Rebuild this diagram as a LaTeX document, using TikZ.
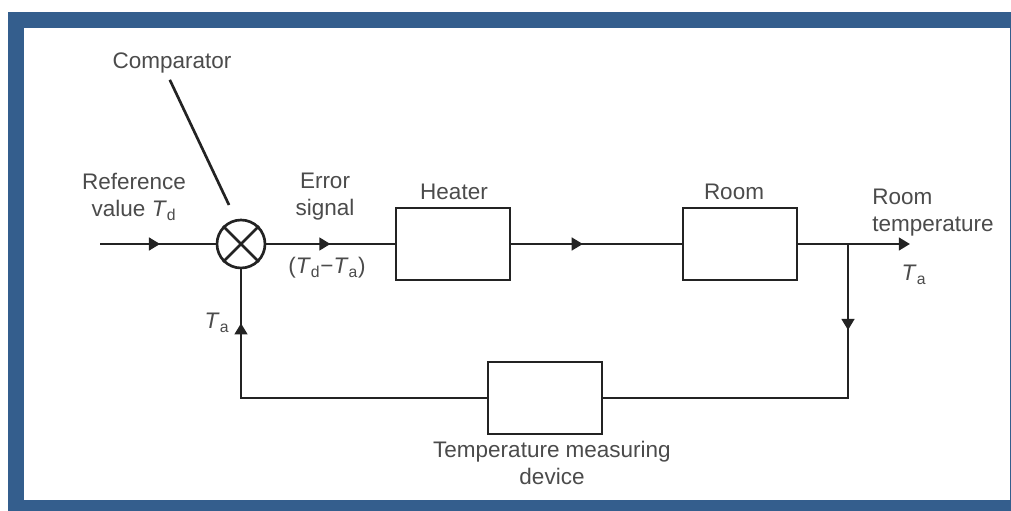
\documentclass[tikz,border=0pt]{standalone}
\usepackage{fontspec}
\setmainfont{Liberation Sans}
\usetikzlibrary{arrows.meta,decorations.markings}
\definecolor{frameblue}{RGB}{52,94,141}
\definecolor{inkgray}{RGB}{35,35,35}
\definecolor{textgray}{RGB}{75,75,75}
\newcommand{\Tval}[1]{\textit{T}\textsubscript{#1}}
\tikzset{
  block/.style={draw=inkgray, line width=1.9pt, minimum width=2.85cm, minimum height=1.8cm},
  txt/.style={text=textgray, font=\fontsize{16}{19.2}\selectfont, align=center, inner sep=0pt},
  signal/.style={color=inkgray, line width=1.9pt},
  midarrow/.style={postaction={decorate}, decoration={markings,
    mark=at position #1 with {\arrow{Triangle[length=8pt,width=9pt]}}}},
}
\begin{document}
\begin{tikzpicture}[x=0.025cm, y=-0.025cm]
\useasboundingbox (0,0) rectangle (1011,511);
% frame
\fill[frameblue] (8,12) rectangle (1011,511);
\fill[white] (24,28) rectangle (1010,500);
% comparator
\node[circle, draw=inkgray, line width=1.9pt, minimum size=1.2cm, inner sep=0pt] (comp) at (241,244) {};
\draw[signal] (comp.north west) -- (comp.south east) (comp.north east) -- (comp.south west);
% blocks
\node[block] (heater) at (453,244) {};
\node[block] (room) at (740,244) {};
\node[block] (meas) at (545,398) {};
\coordinate (in) at (100,244);
\coordinate (branch) at (848,244);
\coordinate (out) at (910,244);
\coordinate (ptr) at (229,205);
% forward path
\draw[signal, midarrow=0.52] (in) -- (comp.west);
\draw[signal, midarrow=0.5] (comp.east) -- (heater.west);
\draw[signal, midarrow=0.42] (heater.east) -- (room.west);
\draw[signal, -{Triangle[length=8pt,width=9pt]}] (room.east) -- (out);
% feedback path
\draw[signal, midarrow=0.216] (branch) |- (meas.east);
\draw[signal, midarrow=0.856] (meas.west) -| (comp.south);
% labels
\node[txt] (complabel) at (172,63) {Comparator};
\draw[signal, shorten <=5pt] ([xshift=-0.13cm]complabel.south) -- (ptr);
\node[txt] (reflabel) at (134,197) {Reference\\value \Tval{d}};
\node[txt] (errlabel) at (325,197) {Error\\signal};
\node[txt] (errval) at (327,268) {(\Tval{d}−\Tval{a})};
\node[txt] (heatlabel) at (454,192) {Heater};
\node[txt] (roomlabel) at (734,192) {Room};
\node[txt, anchor=west, align=left] (outlabel) at (872,213) {Room\\temperature};
\node[txt] (outval) at (914,275) {\Tval{a}};
\node[txt] (fbval) at (217,323) {\Tval{a}};
\node[txt] (measlabel) at (552,463) {Temperature measuring\\device};
\end{tikzpicture}
\end{document}
